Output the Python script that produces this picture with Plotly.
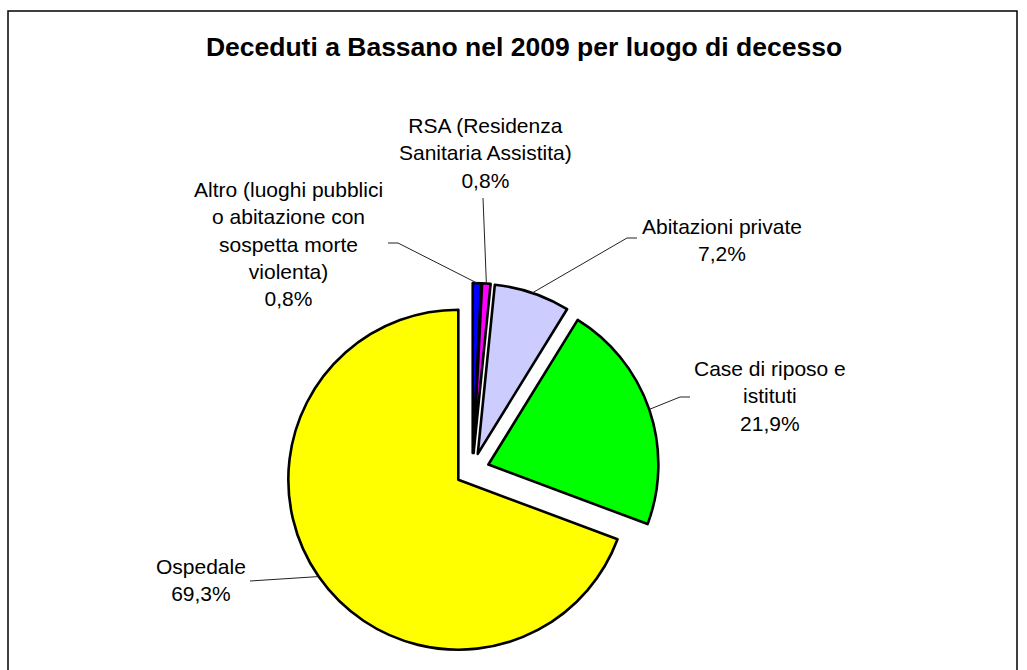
import math
import plotly.graph_objects as go

# ---------------- data ----------------
TITLE = "Deceduti a Bassano nel 2009 per luogo di decesso"
CATEGORIES = [
    "Altro (luoghi pubblici o abitazione con sospetta morte violenta)",
    "RSA (Residenza Sanitaria Assistita)",
    "Abitazioni private",
    "Case di riposo e istituti",
    "Ospedale",
]
LABEL_LINES = [
    ["Altro (luoghi pubblici", "o abitazione con", "sospetta morte", "violenta)"],
    ["RSA (Residenza", "Sanitaria Assistita)"],
    ["Abitazioni private"],
    ["Case di riposo e", "istituti"],
    ["Ospedale"],
]
VALUES = [0.8, 0.8, 7.2, 21.9, 69.3]
COLORS = ["#0000FF", "#FF00FF", "#CCCCFF", "#00FF00", "#FFFF00"]

# ---------------- layout (pixels) ----------------
W, H = 1027, 670
CX, CY = 472.3, 470.0      # pie centre
R = 170.0                  # pie radius
PULL = 0.1
HALF = R * (1 + PULL)

# label block centres, leader elbow and end points (pixels)
LABEL_POS = [(288, 244), (485, 153), (722, 240), (770, 396), (201, 580)]
LEADER_ELBOW = [(398, 243), (483, 198), (627, 238), (680, 397), (250, 581)]
LEADER_END = [(388, 243), (483, 198), (637, 238), (690, 397), (250, 581)]

FONT = "Liberation Sans, Arial, Helvetica, sans-serif"


def px(x):
    return x / W


def py(y):
    return 1 - y / H


fig = go.Figure()
fig.add_trace(go.Pie(
    labels=CATEGORIES,
    values=VALUES,
    sort=False,
    direction="clockwise",
    rotation=0,
    pull=[PULL] * len(VALUES),
    marker=dict(colors=COLORS, line=dict(color="#000000", width=2.6)),
    textinfo="none",
    hoverinfo="label+percent",
    showlegend=False,
    domain=dict(x=[px(CX - HALF), px(CX + HALF)], y=[py(CY + HALF), py(CY - HALF)]),
))

total = sum(VALUES)
shapes = []
annotations = []
cum = 0.0
for i, v in enumerate(VALUES):
    mid = (cum + v / 2) / total * 2 * math.pi
    cum += v
    sx = CX + (R * (1 + PULL)) * math.sin(mid)
    sy = CY - (R * (1 + PULL)) * math.cos(mid)
    ex, ey = LEADER_ELBOW[i]
    fx, fy = LEADER_END[i]
    shapes.append(dict(type="line", xref="paper", yref="paper",
                       x0=px(sx), y0=py(sy), x1=px(ex), y1=py(ey),
                       line=dict(color="#222222", width=1)))
    if (ex, ey) != (fx, fy):
        shapes.append(dict(type="line", xref="paper", yref="paper",
                           x0=px(ex), y0=py(ey), x1=px(fx), y1=py(fy),
                           line=dict(color="#222222", width=1)))
    pct = f"{v / total * 100:.1f}".replace(".", ",") + "%"
    text = "<br>".join(LABEL_LINES[i] + [pct])
    lx, ly = LABEL_POS[i]
    annotations.append(dict(xref="paper", yref="paper", x=px(lx), y=py(ly),
                            xanchor="center", yanchor="middle", align="center",
                            showarrow=False, text=text,
                            font=dict(family=FONT, size=21, color="#000000")))

# chart border
shapes.append(dict(type="rect", xref="paper", yref="paper",
                   x0=px(8), x1=px(1017), y0=py(700), y1=py(11),
                   line=dict(color="#000000", width=1.5), fillcolor="rgba(0,0,0,0)"))

fig.update_layout(
    width=W, height=H,
    margin=dict(l=0, r=0, t=0, b=0),
    paper_bgcolor="#FFFFFF",
    plot_bgcolor="#FFFFFF",
    title=dict(text="<b>" + TITLE + "</b>", x=px(524), y=py(47),
               xanchor="center", yanchor="middle",
               font=dict(family=FONT, size=26.5, color="#000000")),
    shapes=shapes,
    annotations=annotations,
)

fig.write_html("out.html", config={"displayModeBar": False},
               post_script="document.body.style.margin='0';")
